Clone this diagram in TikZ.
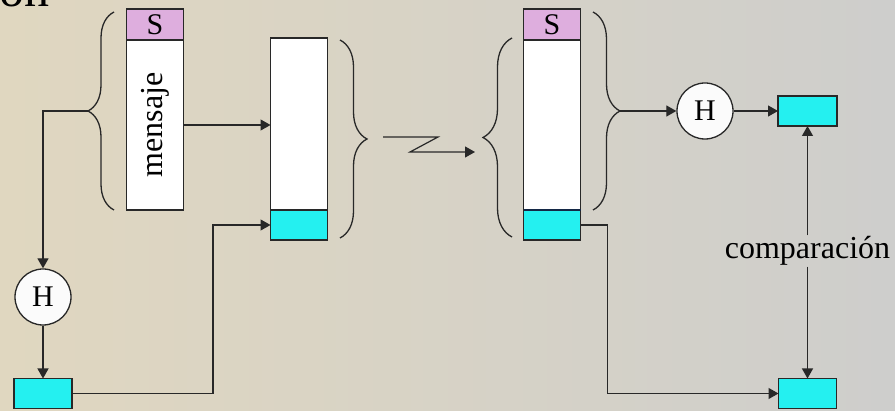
\documentclass[tikz,border=0pt]{standalone}
\usepackage{fontspec}
\setmainfont{Liberation Serif}
\usepackage{tikz}
\usetikzlibrary{
  arrows.meta,
  calc,
  positioning,
  decorations.pathreplacing
}
\usepackage{xcolor}
\definecolor{fillS}{RGB}{222, 174, 222}
\definecolor{fillH}{RGB}{ 36, 240, 240}
\definecolor{borde}{RGB}{ 40,  40,  40}
\definecolor{sepclr}{RGB}{ 20,  40,  70}
\definecolor{fondoA}{RGB}{224, 215, 192}
\definecolor{fondoB}{RGB}{209, 207, 200}
\definecolor{fondoC}{RGB}{206, 206, 204}
\tikzset{
  % Campos del mensaje
  caja/.style    = {draw=borde, line width=1.3pt, inner sep=0pt, outer sep=0pt,
                    minimum width=57pt},
  campoS/.style  = {caja, fill=fillS, minimum height=31pt, font=\fontsize{30}{30}\selectfont},
  campoM/.style  = {caja, fill=white, minimum height=170pt},
  campoH/.style  = {caja, fill=fillH, minimum height=30pt},
  % Funcion hash
  hashnodo/.style = {circle, draw=borde, line width=1.3pt, fill=white!97!gray,
                     minimum size=56pt, inner sep=0pt, font=\fontsize{30}{30}\selectfont},
  % Conectores
  flecha/.style  = {-{Triangle[length=10pt,width=11pt]}, line width=1.2pt, draw=borde},
  llave/.style   = {line width=1.3pt, draw=borde, decorate,
                    decoration={brace, amplitude=#1}},
  % Textos
  etiq/.style    = {font=\fontsize{32}{32}\selectfont, inner sep=1pt},
}

\begin{document}
\begin{tikzpicture}[x=1pt, y=-1pt]
  % Fondo
  \useasboundingbox (0,0) rectangle (895,411);
  \clip (0,0) rectangle (895,411);
  \shade[left color=fondoA, middle color=fondoB, right color=fondoC]
    (0,0) rectangle (895,411);
  \node[anchor=base east, font=\fontsize{50}{50}\selectfont, inner sep=0pt]
    (titulo) at (50,7) {on};

  % Mensaje con S
  \node[campoS] (S1) at (155,24.5) {S};
  \node[campoM, below=0pt of S1] (M1) {};
  \node[etiq, rotate=90] (txtM) at (M1) {mensaje};
  % Mensaje con resumen
  \node[campoM, minimum height=172pt] (M2) at (299,124) {};
  \node[campoH, below=0pt of M2] (C2) {};
  % Mensaje recibido
  \node[campoS] (S3) at (552,24.5) {S};
  \node[campoM, below=0pt of S3] (M3) {};
  \node[campoH, below=0pt of M3] (C3) {};
  \draw[sepclr, line width=2.4pt] (M3.south west) -- (M3.south east);

  % Hash y resumenes
  \node[hashnodo] (HL) at (43,297) {H};
  \node[campoH, minimum width=58pt] (CL) at (43,393.5) {};
  \node[hashnodo] (HR) at (705,111) {H};
  \node[campoH, minimum width=59pt] (CR1) at (807.5,111) {};
  \node[campoH, minimum width=58pt] (CR2) at (807.5,393.5) {};
  \node[etiq] (comp) at (807.5,251) {comparación};

  % Llaves
  \draw[llave=26pt] (114,210) -- (114,12);
  \coordinate (puntaA) at (88,111);
  \draw[llave=27pt] (340,40) -- (340,238);
  \coordinate (puntaB) at (367,139);
  \draw[llave=29pt] (512,237) -- (512,38);
  \coordinate (puntaC) at (483,137.5);
  \draw[llave=27pt] (593,12) -- (593,210);
  \coordinate (puntaD) at (620,111);

  % Conexiones del emisor
  \draw[flecha] (M1.east) -- (M1.east -| M2.west);
  \draw[flecha] (puntaA) -| (HL);
  \draw[flecha] (HL) -- (CL);
  \draw[flecha] (CL.east) -- ++(141,0) |- (C2);
  % Envio
  \draw[flecha] ($(puntaB)+(16,-2)$) -- ++(55,0) -- ++(-28,15)
    -- ($(puntaC)+(-8,14.5)$);
  % Conexiones del receptor
  \draw[flecha] (puntaD) -- (HR);
  \draw[flecha] (HR) -- (CR1);
  \draw[flecha] (C3.east) -- ++(27,0) |- (CR2);
  \draw[flecha] (comp) -- (CR1);
  \draw[flecha] (comp) -- (CR2);
\end{tikzpicture}
\end{document}
